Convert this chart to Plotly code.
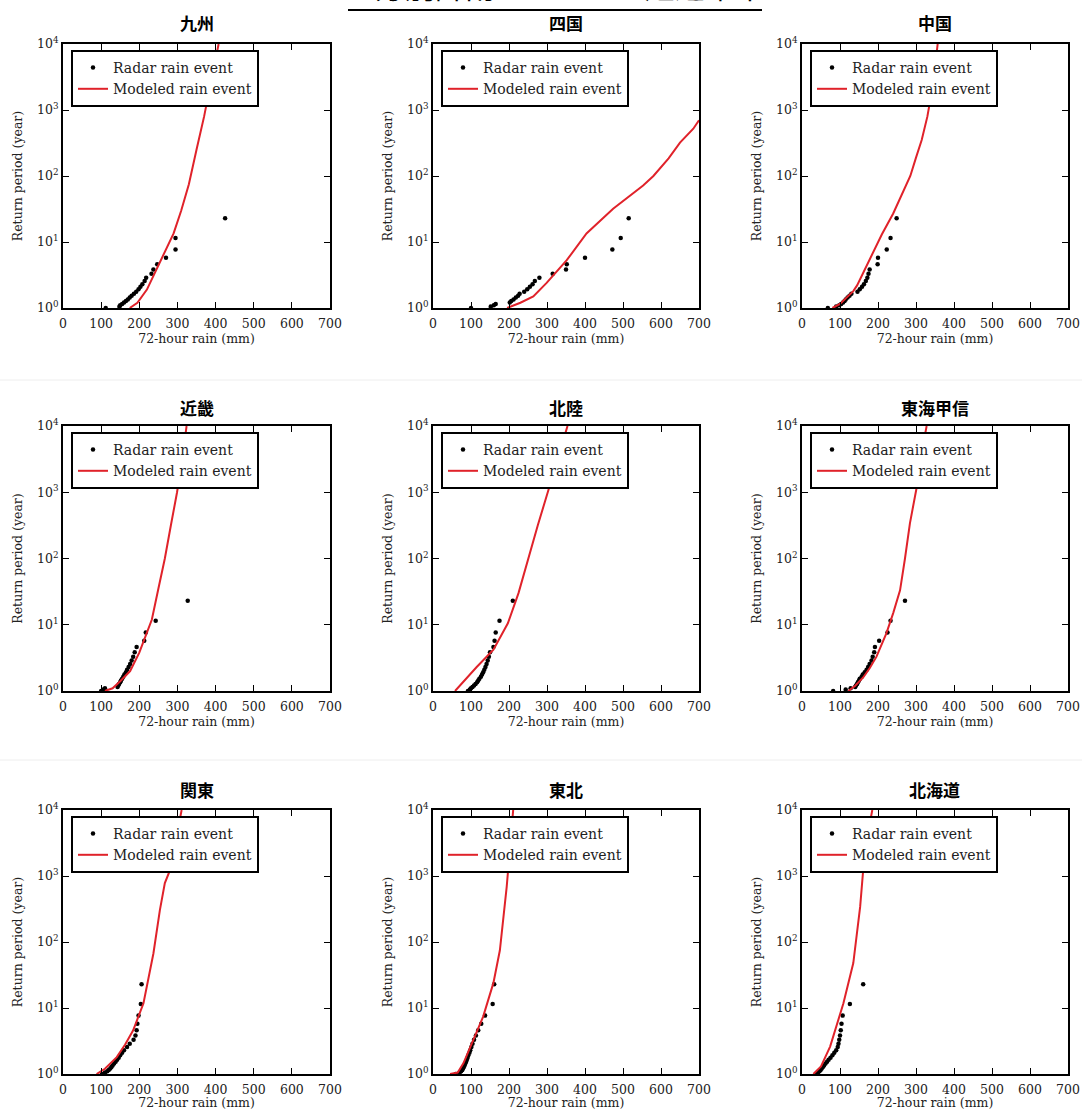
import plotly.graph_objects as go

# ---------------- data ----------------
REGIONS = ["九州", "四国", "中国", "近畿", "北陸", "東海甲信", "関東", "東北", "北海道"]

RADAR_T = [23, 11.5, 7.67, 5.75, 4.6, 3.83, 3.29, 2.88, 2.56, 2.3, 2.09, 1.92,
           1.77, 1.64, 1.53, 1.44, 1.35, 1.28, 1.21, 1.15, 1.1, 1.05, 1.0]

kyushu_radar_x = [425, 295, 295, 270, 247, 237, 232, 218, 214, 208, 203, 198,
                  192, 186, 180, 175, 170, 165, 160, 155, 150, 148, 112]
kyushu_model_x = [175, 195, 220, 245, 270, 290, 310, 330, 350, 370, 385, 400, 408]
kyushu_model_t = [1.0, 1.2, 1.9, 3.8, 7.5, 13.5, 30, 75, 250, 800, 2200, 6000, 10000]

shikoku_radar_x = [515, 494, 472, 400, 352, 350, 315, 280, 268, 262, 255, 248,
                   240, 228, 224, 218, 212, 206, 202, 165, 160, 152, 100]
shikoku_model_x = [195, 230, 264, 299, 352, 404, 474, 553, 580, 620, 650, 685, 700]
shikoku_model_t = [1.0, 1.2, 1.5, 2.4, 5.3, 13.5, 32, 72, 100, 185, 320, 520, 700]

chugoku_radar_x = [249, 233, 223, 200, 199, 178, 175, 172, 168, 163, 158, 152,
                   146, 130, 125, 120, 115, 112, 108, 103, 98, 90, 68]
chugoku_model_x = [80, 100, 115, 135, 145, 165, 185, 210, 240, 265, 285, 300, 315, 330, 345, 357]
chugoku_model_t = [1.0, 1.15, 1.4, 1.8, 2.2, 3.8, 6.8, 13, 27, 55, 100, 190, 350, 800, 2500, 10000]

kinki_radar_x = [327, 243, 217, 213, 193, 188, 184, 180, 176, 172, 168, 165,
                 161, 158, 155, 152, 150, 147, 145, 143, 110, 105, 100]
kinki_model_x = [110, 130, 150, 176, 200, 215, 233, 250, 267, 283, 299, 312, 324]
kinki_model_t = [1.0, 1.1, 1.4, 2.0, 3.8, 6.5, 12, 35, 100, 320, 1000, 3000, 10000]

hokuriku_radar_x = [210, 175, 165, 162, 159, 150, 147, 144, 141, 138, 135, 132,
                    129, 126, 122, 119, 116, 112, 108, 104, 100, 97, 92]
hokuriku_model_x = [58, 80, 115, 159, 197, 225, 250, 276, 302, 328, 354]
hokuriku_model_t = [1.0, 1.4, 2.3, 4.2, 10.5, 30, 100, 320, 1000, 3200, 10000]

tokai_radar_x = [271, 233, 225, 203, 192, 190, 186, 183, 178, 174, 170, 165,
                 160, 157, 152, 150, 147, 145, 142, 140, 128, 115, 82]
tokai_model_x = [122, 140, 161, 178, 196, 222, 240, 258, 271, 284, 302, 315, 328]
tokai_model_t = [1.0, 1.2, 1.6, 2.2, 3.3, 7.4, 15, 33, 100, 340, 1200, 4000, 10000]

kanto_radar_x = [206, 204, 198, 195, 193, 190, 185, 175, 168, 160, 155, 150,
                 146, 142, 138, 134, 130, 127, 124, 120, 116, 110, 102]
kanto_model_x = [88, 110, 141, 163, 184, 211, 237, 254, 267, 281, 296, 311]
kanto_model_t = [1.0, 1.2, 1.8, 2.8, 4.6, 11.8, 67, 305, 780, 1250, 3500, 10000]

tohoku_radar_x = [161, 157, 137, 127, 119, 113, 108, 104, 101, 98, 96, 93,
                  91, 89, 87, 85, 83, 81, 79, 77, 74, 70, 60]
tohoku_model_x = [45, 65, 80, 106, 132, 159, 176, 194, 203, 211]
tohoku_model_t = [1.0, 1.05, 1.45, 3.3, 7.4, 24, 75, 690, 3000, 10000]

hokkaido_radar_x = [161, 126, 107, 104, 102, 100, 98, 96, 94, 90, 85, 80,
                    75, 70, 66, 62, 58, 55, 52, 49, 46, 42, 38]
hokkaido_model_x = [30, 50, 74, 92, 109, 135, 153, 161, 172, 185]
hokkaido_model_t = [1.0, 1.3, 2.6, 5.5, 11.8, 48, 340, 1230, 4000, 10000]

RADAR_X = [kyushu_radar_x, shikoku_radar_x, chugoku_radar_x, kinki_radar_x, hokuriku_radar_x,
           tokai_radar_x, kanto_radar_x, tohoku_radar_x, hokkaido_radar_x]
MODEL_X = [kyushu_model_x, shikoku_model_x, chugoku_model_x, kinki_model_x, hokuriku_model_x,
           tokai_model_x, kanto_model_x, tohoku_model_x, hokkaido_model_x]
MODEL_T = [kyushu_model_t, shikoku_model_t, chugoku_model_t, kinki_model_t, hokuriku_model_t,
           tokai_model_t, kanto_model_t, tohoku_model_t, hokkaido_model_t]

X_TICKS = [0, 100, 200, 300, 400, 500, 600, 700]
Y_TICKS = [1, 10, 100, 1000, 10000]
Y_TICKTEXT = ["10<sup>0</sup>", "10<sup>1</sup>", "10<sup>2</sup>", "10<sup>3</sup>", "10<sup>4</sup>"]

# ---------------- layout ----------------
W, H = 1082, 1110
COLS = [(63, 330), (433, 699), (802, 1068)]
ROWS = [(44, 308), (426, 691), (810, 1074)]
TITLE_Y = [22, 407, 790]

def fx(p):
    return p / W

def fy(p):
    return 1 - p / H

SERIF = "DejaVu Serif"
CJK = "Noto Sans CJK JP"
TXT = "#222222"

fig = go.Figure()
layout = dict(
    width=W, height=H,
    margin=dict(l=0, r=0, t=0, b=0, pad=0),
    paper_bgcolor="white", plot_bgcolor="white",
    showlegend=True,
    annotations=[], shapes=[],
)

for i, name in enumerate(REGIONS):
    r, c = divmod(i, 3)
    sfx = "" if i == 0 else str(i + 1)
    xref, yref = "x" + sfx, "y" + sfx
    leg = "legend" + sfx

    fig.add_trace(go.Scatter(
        x=RADAR_X[i], y=RADAR_T, mode="markers", name="Radar rain event",
        marker=dict(color="black", size=4.5),
        xaxis=xref, yaxis=yref, legend=leg,
    ))
    fig.add_trace(go.Scatter(
        x=MODEL_X[i], y=MODEL_T[i], mode="lines", name="Modeled rain event",
        line=dict(color="#e0222a", width=2),
        xaxis=xref, yaxis=yref, legend=leg,
    ))

    common = dict(
        automargin=False,
        showline=True, linecolor="black", linewidth=2, mirror="allticks",
        ticks="inside", ticklen=6, tickwidth=1, tickcolor="black",
        showgrid=False, zeroline=False,
        tickfont=dict(family=SERIF, size=12.5, color=TXT),
    )
    layout["xaxis" + sfx] = dict(
        common, domain=[fx(COLS[c][0]), fx(COLS[c][1])], anchor=yref,
        range=[0, 700], tickvals=X_TICKS, ticklabelstandoff=3,
        title=dict(text="72-hour rain (mm)", font=dict(family=SERIF, size=12.5, color=TXT), standoff=4),
    )
    layout["yaxis" + sfx] = dict(
        common, domain=[fy(ROWS[r][1]), fy(ROWS[r][0])], anchor=xref,
        type="log", range=[0, 4], tickvals=Y_TICKS, ticktext=Y_TICKTEXT,
        title=dict(text="Return period (year)", font=dict(family=SERIF, size=12.5, color=TXT), standoff=12),
    )
    layout[leg] = dict(
        x=fx(COLS[c][0] + 8), y=fy(ROWS[r][0] + 6), xanchor="left", yanchor="top",
        bgcolor="white", bordercolor="black", borderwidth=2,
        font=dict(family=SERIF, size=14, color=TXT),
        itemwidth=30, tracegroupgap=0,
    )
    layout["annotations"].append(dict(
        text="<b>" + name + "</b>", x=fx((COLS[c][0] + COLS[c][1]) / 2), y=fy(TITLE_Y[r]),
        xref="paper", yref="paper", xanchor="center", yanchor="middle",
        showarrow=False, font=dict(family=CJK, size=17, color="black"),
    ))

# cut-off page heading with underline
layout["annotations"].append(dict(
    text="地方別降雨イベントの超過確率", x=fx(555), y=fy(9), xref="paper", yref="paper",
    xanchor="center", yanchor="bottom", showarrow=False,
    font=dict(family=CJK, size=30, color="black"),
))
layout["shapes"].append(dict(
    type="line", xref="paper", yref="paper", x0=fx(348), x1=fx(762), y0=fy(10), y1=fy(10),
    line=dict(color="black", width=2),
))
for yy in (380, 760):
    layout["shapes"].append(dict(
        type="line", xref="paper", yref="paper", x0=0, x1=1, y0=fy(yy), y1=fy(yy),
        line=dict(color="#eeeeee", width=1),
    ))

fig.update_layout(**layout)
fig.write_html("out.html", config={"displayModeBar": False},
               post_script="document.body.style.margin='0px';")
